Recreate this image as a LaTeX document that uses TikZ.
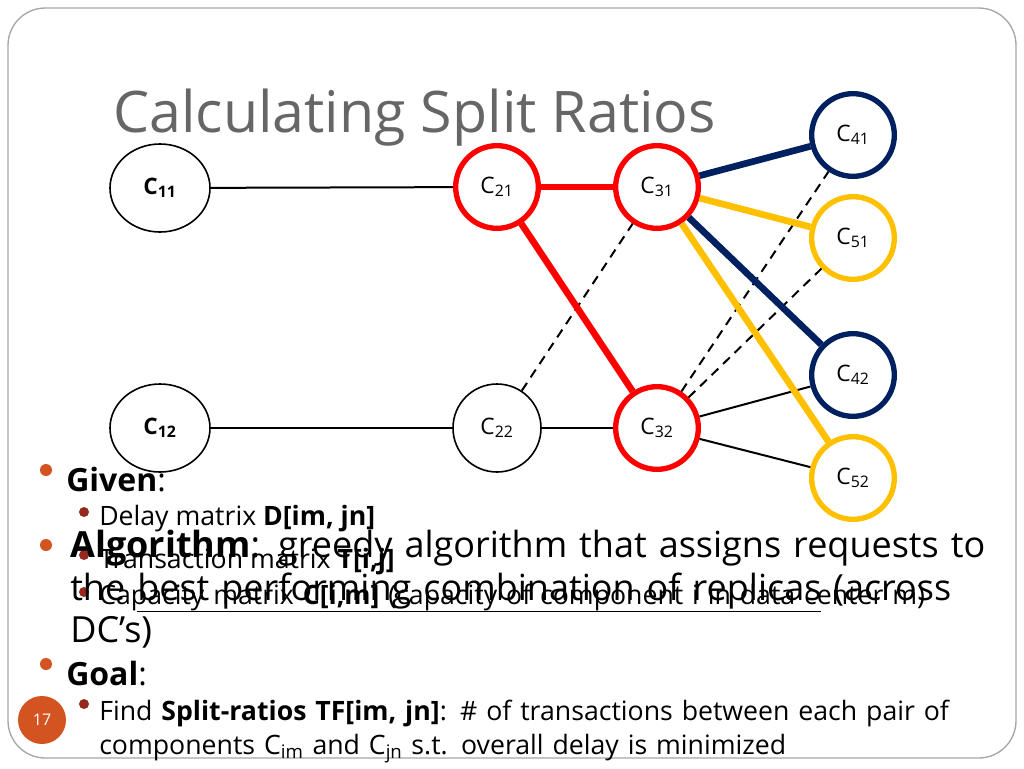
\documentclass[tikz,border=0pt]{standalone}
\usepackage{fontspec}
\setmainfont{Open Sans}
\usetikzlibrary{positioning,shapes.geometric}
\definecolor{cred}{RGB}{255,0,0}
\definecolor{cnavy}{RGB}{0,32,96}
\definecolor{cyel}{RGB}{255,192,0}
\definecolor{bul}{RGB}{211,84,32}
\definecolor{subbul}{RGB}{150,40,30}
\begin{document}
\begin{tikzpicture}[x=0.75pt,y=-0.75pt]
	\tikzstyle{comp}=[draw, circle, line width=1.2pt, inner sep=0pt, font=\fontsize{17}{17}\selectfont]
	\tikzstyle{txt}=[anchor=west, inner sep=0pt, align=left]
	\useasboundingbox (0,0) rectangle (1024,768);
	\draw[gray!70, line width=1pt, rounded corners=28] (8,8) rectangle (1016,758);
	\node[txt, text=black!60, font=\fontsize{43}{43}\selectfont] (title) at (113,118) {Calculating Split Ratios};
	% components
	\node[comp, ellipse, minimum width=75pt, minimum height=66pt] (C11) at (160,188) {\textbf{C\textsubscript{11}}};
	\node[comp, ellipse, minimum width=75pt, minimum height=66pt] (C12) at (160,428) {\textbf{C\textsubscript{12}}};
	\node[comp, minimum size=66pt] (C22) at (497,428) {C\textsubscript{22}};
	\node[comp, minimum size=62pt, draw=cred, line width=4pt] (C21) at (497,187) {C\textsubscript{21}};
	\node[comp, minimum size=62pt, draw=cred, line width=4pt] (C31) at (657,187) {C\textsubscript{31}};
	\node[comp, minimum size=62pt, draw=cred, line width=4pt] (C32) at (657,428) {C\textsubscript{32}};
	\node[comp, minimum size=62pt, draw=cnavy, line width=4pt] (C41) at (853,135) {C\textsubscript{41}};
	\node[comp, minimum size=62pt, draw=cyel, line width=4pt] (C51) at (853,238) {C\textsubscript{51}};
	\node[comp, minimum size=62pt, draw=cnavy, line width=4pt] (C42) at (853,375) {C\textsubscript{42}};
	\node[comp, minimum size=62pt, draw=cyel, line width=4pt] (C52) at (853,478) {C\textsubscript{52}};
	% connectors
	\draw[line width=1.5pt] (C11) -- (C21);
	\draw[line width=1.5pt] (C12) -- (C22);
	\draw[line width=1.5pt] (C22) -- (C32);
	\draw[line width=1.5pt] (C32) -- (C42);
	\draw[line width=1.5pt] (C32) -- (C52);
	\draw[line width=1.5pt, dash pattern=on 7pt off 5pt] (C22) -- (C31);
	\draw[line width=1.5pt, dash pattern=on 7pt off 5pt] (C32) -- (C41);
	\draw[line width=1.5pt, dash pattern=on 7pt off 5pt] (C32) -- (C51);
	\draw[cred, line width=5pt] (C21) -- (C31);
	\draw[cred, line width=5pt] (C21) -- (C32);
	\draw[cyel, line width=5pt] (C31) -- (C51);
	\draw[cyel, line width=5pt] (C31) -- (C52);
	\draw[cnavy, line width=5pt] (C31) -- (C41);
	\draw[cnavy, line width=5pt] (C31) -- (C42);
	% text
	\fill[bul] (46,470) circle (6);
	\node[txt, font=\fontsize{24}{24}\selectfont] (given) at (66,480) {\textbf{Given}:};
	\fill[subbul] (84,512) circle (5);
	\node[txt, font=\fontsize{20}{20}\selectfont] (d) at (99,519) {Delay matrix \textbf{D[im, jn]}};
	\fill[subbul] (84,555) circle (5);
	\node[txt, font=\fontsize{20}{20}\selectfont] (t) at (99,562) {Transaction matrix \textbf{T[i,j]}};
	\fill[subbul] (84,592) circle (5);
	\node[txt, font=\fontsize{20}{24}\selectfont, text width=660pt, anchor=north west] (c) at (99,584) {Capacity matrix \textbf{C[i,m]} (capacity of component i in data center m)};
	\fill[bul] (46,545) circle (6);
	\node[txt, font=\fontsize{27}{32}\selectfont, text width=705pt, anchor=north west] (algo) at (70,530) {\textbf{Algorithm}: greedy algorithm that assigns requests to the \underline{best performing combination of replicas} (across DC's)};
	\fill[bul] (46,664) circle (6);
	\node[txt, font=\fontsize{24}{24}\selectfont] (goal) at (66,674) {\textbf{Goal}:};
	\fill[subbul] (84,704) circle (5);
	\node[txt, font=\fontsize{20}{25}\selectfont, text width=680pt, anchor=north west] (find) at (99,700) {Find \textbf{Split-ratios TF[im, jn]}: \# of transactions between each pair of components C\textsubscript{im} and C\textsubscript{jn} s.t. overall delay is minimized};
	\node[circle, fill=bul, minimum size=36pt, inner sep=0pt, text=white, font=\fontsize{12}{12}\selectfont] (num) at (42,720) {17};
\end{tikzpicture}
\end{document}
